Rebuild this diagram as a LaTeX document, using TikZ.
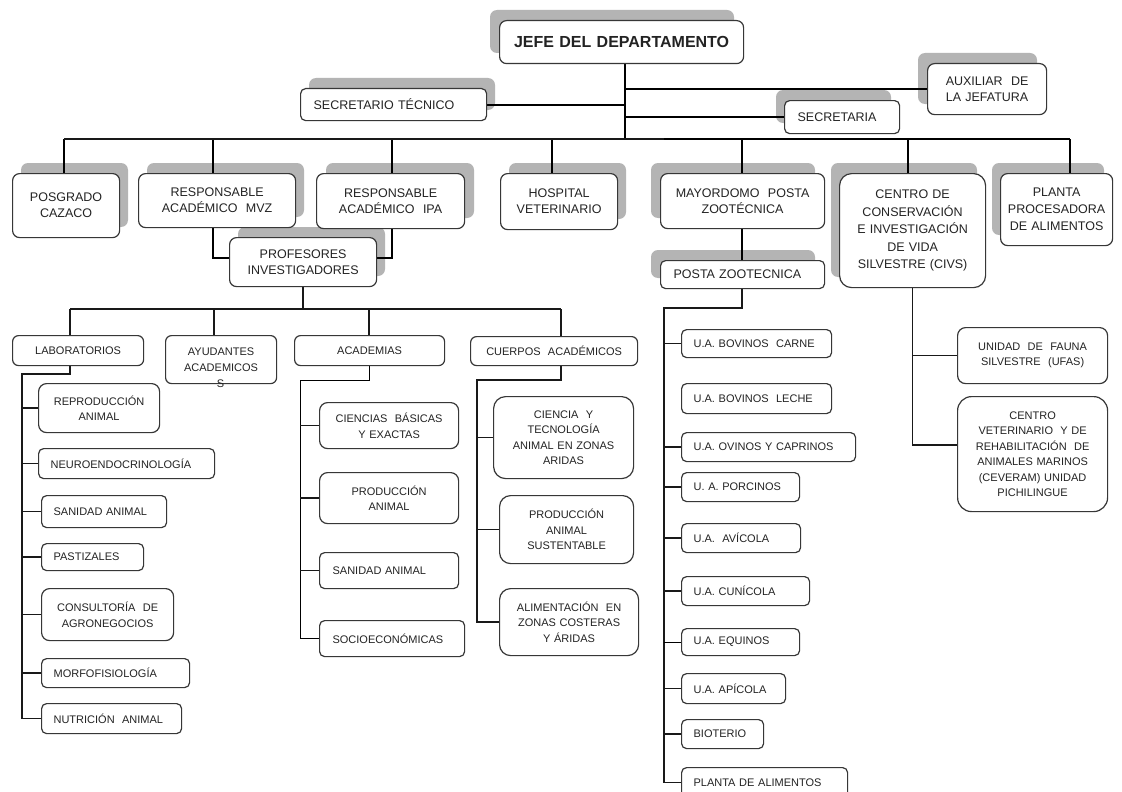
\documentclass[tikz,border=0pt]{standalone}
\usepackage{fontspec}
\setmainfont{Liberation Sans}
\usetikzlibrary{calc}
\pgfdeclarelayer{back}
\pgfdeclarelayer{shadow}
\pgfdeclarelayer{bg}
\pgfsetlayers{back,shadow,bg,main}
\definecolor{shdcol}{RGB}{180,180,180}
\definecolor{bord}{RGB}{55,55,55}
\definecolor{txt}{RGB}{35,35,35}
\tikzset{
  boxbase/.style={draw=bord, line width=1.2pt, fill=white, text=txt},
  topc/.style={boxbase, rounded corners=7pt, align=center, font=\fontsize{12.5}{16}\selectfont},
  topl/.style={boxbase, rounded corners=5pt, align=left, font=\fontsize{12.5}{16}\selectfont},
  lowc/.style={boxbase, rounded corners=6pt, align=center, font=\fontsize{11}{15.5}\selectfont},
  lowl/.style={boxbase, rounded corners=5pt, align=left, font=\fontsize{11}{15.5}\selectfont},
  thk/.style={line width=2pt, black},
  thn/.style={line width=1.3pt, black!90},
  shd/.style={fill=shdcol, rounded corners=7pt},
}
% style, name, x1, y1, x2, y2, pad, text
\newcommand{\BX}[8]{%
  \pgfmathsetmacro{\bw}{#5-#3}%
  \pgfmathsetmacro{\bh}{#6-#4}%
  \pgfmathsetmacro{\tw}{#5-#3-2*#7}%
  \node[#1, anchor=north west, inner xsep=#7pt, inner ysep=0pt, text width=\tw pt,
        minimum width=\bw pt, minimum height=\bh pt] (#2) at (#3,#4) {#8};}
% x1,y1,x2,y2, dx (signed)
\newcommand{\SH}[5]{%
  \begin{pgfonlayer}{shadow}\fill[shd] (#1#5,#2-10) rectangle (#3#5,#4-10);\end{pgfonlayer}}

\begin{document}
\begin{tikzpicture}[x=1pt,y=-1pt]
\begin{pgfonlayer}{back}
\fill[white] (0,0) rectangle (1122,792);
\end{pgfonlayer}
\useasboundingbox (0,0) rectangle (1122,792);

% ---------- top level ----------
\SH{499}{20}{743}{63}{-9}
\BX{topc,font=\bfseries\fontsize{16}{19}\selectfont}{jefe}{499}{20}{743}{63}{4}{JEFE DEL DEPARTAMENTO}
\SH{300}{88}{486}{120}{+9}
\BX{topl}{sect}{300}{88}{486}{120}{13}{SECRETARIO TÉCNICO}
\SH{927}{63}{1046}{114}{-9}
\BX{topc}{aux}{927}{63}{1046}{114}{3}{AUXILIAR\ \ DE\\LA JEFATURA}
\SH{784}{100}{899}{133}{-8}
\BX{topl}{secr}{784}{100}{899}{133}{13}{SECRETARIA}

% ---------- second row ----------
\SH{12}{173}{119}{237}{+9}
\BX{topc}{posg}{12}{173}{119}{237}{3}{POSGRADO\\CAZACO}
\SH{138}{173}{295}{227}{+9}
\BX{topc}{mvz}{138}{173}{295}{227}{3}{RESPONSABLE\\ACADÉMICO\ \ MVZ}
\SH{316}{173}{464}{228}{+10}
\BX{topc}{ipa}{316}{173}{464}{228}{3}{RESPONSABLE\\ACADÉMICO\ \ IPA}
\SH{229}{237}{376}{286}{+9}
\BX{topc}{prof}{229}{237}{376}{286}{3}{PROFESORES\\INVESTIGADORES}
\SH{500}{173}{617}{229}{+9}
\BX{topc}{hosp}{500}{173}{617}{229}{3}{HOSPITAL\\VETERINARIO}
\SH{660}{173}{824}{228}{-9}
\BX{topc}{mayo}{660}{173}{824}{228}{3}{MAYORDOMO\ \ POSTA\\ZOOTÉCNICA}
\SH{660}{260}{824}{288}{-9}
\BX{topl}{posta}{660}{260}{824}{288}{13}{POSTA ZOOTECNICA}
\SH{839}{173}{985}{287}{-8}
\BX{topc,rounded corners=12pt,font=\fontsize{12.5}{17.5}\selectfont}{civs}{839}{173}{985}{287}{3}{CENTRO DE\\CONSERVACIÓN\\E INVESTIGACIÓN\\DE VIDA\\SILVESTRE (CIVS)}
\SH{1000}{173}{1112}{245}{-8}
\BX{topc,font=\fontsize{12.5}{17}\selectfont}{planta}{1000}{173}{1112}{245}{2}{PLANTA\\PROCESADORA\\DE ALIMENTOS}

% ---------- third row ----------
\BX{lowc}{lab}{12}{335}{143}{365}{3}{LABORATORIOS}
\BX{lowc}{ayu}{165}{335}{276}{383}{3}{AYUDANTES\\ACADEMICOS}
\node[text=txt, font=\fontsize{11}{15.5}\selectfont, inner sep=0pt] (ayus) at (220.5,384) {S};
\BX{lowc}{aca}{294}{335}{444}{365}{3}{ACADEMIAS}
\BX{lowc}{cue}{470}{336}{637}{365}{3}{CUERPOS\ \ ACADÉMICOS}

% laboratorios children
\BX{lowc,rounded corners=8pt}{rep}{38}{383}{159}{432}{3}{REPRODUCCIÓN\\ANIMAL}
\BX{lowl}{neu}{38}{448}{214}{478}{12}{NEUROENDOCRINOLOGÍA}
\BX{lowl}{san1}{41}{495}{166}{527}{12}{SANIDAD ANIMAL}
\BX{lowl}{pas}{41}{543}{143}{570}{12}{PASTIZALES}
\BX{lowc,rounded corners=8pt}{con}{41}{588}{173}{640}{3}{CONSULTORÍA\ \ DE\\AGRONEGOCIOS}
\BX{lowl}{mor}{41}{658}{189}{687}{12}{MORFOFISIOLOGÍA}
\BX{lowl}{nut}{41}{703}{181}{733}{12}{NUTRICIÓN\ \ ANIMAL}

% academias children
\BX{lowc,rounded corners=8pt}{cb}{319}{402}{458}{448}{3}{CIENCIAS\ \ BÁSICAS\\Y EXACTAS}
\BX{lowc,rounded corners=8pt}{pa}{319}{472}{458}{523}{3}{PRODUCCIÓN\\ANIMAL}
\BX{lowl}{san2}{319}{552}{458}{588}{13}{SANIDAD ANIMAL}
\BX{lowl}{soc}{319}{620}{464}{656}{13}{SOCIOECONÓMICAS}

% cuerpos children
\BX{lowc,rounded corners=12pt}{ct}{493}{396}{633}{478}{3}{CIENCIA\ \ Y\\TECNOLOGÍA\\ANIMAL EN ZONAS\\ARIDAS}
\BX{lowc,rounded corners=11pt}{pas2}{499}{495}{633}{563}{3}{PRODUCCIÓN\\ANIMAL\\SUSTENTABLE}
\BX{lowc,rounded corners=11pt}{ali}{499}{588}{638}{655}{3}{ALIMENTACIÓN\ \ EN\\ZONAS COSTERAS\\Y ÁRIDAS}

% posta children
\BX{lowl}{bc}{681}{329}{831}{357}{12}{U.A. BOVINOS\ \ CARNE}
\BX{lowl}{bl}{681}{383}{831}{413}{12}{U.A. BOVINOS\ \ LECHE}
\BX{lowl}{oc}{681}{432}{855}{461}{12}{U.A. OVINOS Y CAPRINOS}
\BX{lowl}{por}{681}{472}{799}{501}{12}{U. A. PORCINOS}
\BX{lowl}{avi}{681}{523}{800}{552}{12}{U.A.\ \ AVÍCOLA}
\BX{lowl}{cun}{681}{576}{809}{605}{12}{U.A. CUNÍCOLA}
\BX{lowl}{equ}{681}{628}{799}{655}{12}{U.A. EQUINOS}
\BX{lowl}{api}{681}{673}{785}{703}{12}{U.A. APÍCOLA}
\BX{lowl}{bio}{681}{719}{763}{748}{12}{BIOTERIO}
\BX{lowl}{pla}{681}{767}{847}{797}{12}{PLANTA DE ALIMENTOS}

% civs children
\BX{lowc,rounded corners=8pt}{ufas}{957}{327}{1107}{383}{3}{UNIDAD\ \ DE\ \ FAUNA\\SILVESTRE\ \ (UFAS)}
\BX{lowc,rounded corners=14pt}{cev}{957}{396}{1107}{511}{3}{CENTRO\\VETERINARIO\ \ Y DE\\REHABILITACIÓN\ \ DE\\ANIMALES MARINOS\\(CEVERAM) UNIDAD\\PICHILINGUE}

% ---------- connectors ----------
\coordinate (jk) at (625,139);
\coordinate (bl) at (64,139);
\coordinate (br) at (1070,139);
\coordinate (dmvz) at (213,139);
\coordinate (dipa) at (392,139);
\coordinate (dhosp) at (552,139);
\coordinate (dmayo) at (742,139);
\coordinate (dcivs) at (908,139);
\coordinate (b2l) at (70,309);
\coordinate (b2a) at (214,309);
\coordinate (b2c) at (369,309);
\coordinate (b2r) at (561,309);
\coordinate (labk) at (22,374);
\coordinate (acak) at (300,380);
\coordinate (cuek) at (477,380);
\coordinate (postk) at (664,308);

\begin{pgfonlayer}{bg}
\draw[thk] (jk |- jefe.south) -- (jk);
\draw[thk] (sect.east) -- (sect.east -| jk);
\draw[thk] (aux.west) -- (aux.west -| jk);
\draw[thk] (secr.west) -- (secr.west -| jk);
\draw[thk] (bl) -- (br);
\draw[thk] (bl) -- (bl |- posg.north);
\draw[thk] (dmvz) -- (dmvz |- mvz.north);
\draw[thk] (dipa) -- (dipa |- ipa.north);
\draw[thk] (dhosp) -- (dhosp |- hosp.north);
\draw[thk] (dmayo) -- (dmayo |- mayo.north);
\draw[thk] (dcivs) -- (dcivs |- civs.north);
\draw[thk] (br) -- (br |- planta.north);
\draw[thk] (dmvz |- mvz.south) |- ([yshift=4pt]prof.west);
\draw[thk] (dipa |- ipa.south) |- ([yshift=4pt]prof.east);
\draw[thk] (dmayo |- mayo.south) -- (dmayo |- posta.north);

% profesores bus
\draw[thn] (prof.south) -- (prof.south |- b2l);
\draw[thn] (b2l) -- (b2r);
\draw[thn] (b2l) -- (b2l |- lab.north);
\draw[thn] (b2a) -- (b2a |- ayu.north);
\draw[thn] (b2c) -- (b2c |- aca.north);
\draw[thn] (b2r) -- (b2r |- cue.north);

% laboratorios
\draw[thn] (b2l |- lab.south) |- (labk) |- (nut.west);
\foreach \n in {rep,neu,san1,pas,con,mor}
  \draw[thn] (\n.west) -- (\n.west -| labk);

% academias
\draw[line width=0.8pt] (b2c |- aca.south) |- (acak) |- (soc.west);
\foreach \n in {cb,pa,san2}
  \draw[thn] (\n.west) -- (\n.west -| acak);

% cuerpos
\draw[thn] (b2r |- cue.south) |- (cuek) |- (ali.west);
\foreach \n in {ct,pas2}
  \draw[thn] (\n.west) -- (\n.west -| cuek);

% posta
\draw[thn] (dmayo |- posta.south) |- (postk) |- (pla.west);
\foreach \n in {bc,bl,oc,por,avi,cun,api,bio}
  \draw[thn] (\n.west) -- (\n.west -| postk);
\draw[line width=0.6pt] (equ.west) -- (equ.west -| postk);

% civs
\draw[thn] (civs.south) |- ([yshift=9pt]cev.west);
\draw[thn] (ufas.west) -- (ufas.west -| civs.south);
\end{pgfonlayer}
\end{tikzpicture}
\end{document}
